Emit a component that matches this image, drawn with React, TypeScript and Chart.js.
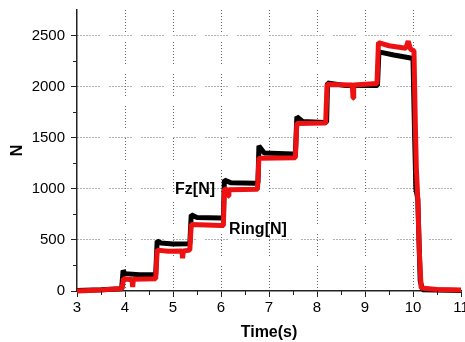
import React, { useEffect, useRef } from "react";
import { Chart, registerables } from "chart.js";

Chart.register(...registerables);

// Fz[N] (black) trace
const fzTime = [3.0, 3.5, 3.93, 3.96, 4.0, 4.3, 4.64, 4.67, 4.75, 5.0, 5.35, 5.38, 5.5, 6.0, 6.05, 6.07, 6.2, 6.7, 6.77, 6.79, 6.9, 7.5, 7.55, 7.58, 7.7, 8.15, 8.2, 8.22, 8.6, 9.2, 9.26, 9.29, 9.6, 9.95, 10.0, 10.03, 10.06, 10.1, 10.15, 10.2, 11.0];
const fzValue = [5, 12, 22, 200, 170, 160, 162, 490, 470, 460, 462, 745, 720, 715, 716, 1085, 1060, 1055, 1058, 1420, 1350, 1340, 1342, 1705, 1660, 1650, 1652, 2035, 2010, 2010, 2012, 2340, 2310, 2280, 2270, 1600, 1000, 900, 100, 12, 5];

// Ring[N] (red) trace
const ringTime = [3.0, 3.5, 3.94, 3.97, 4.1, 4.145, 4.16, 4.175, 4.64, 4.67, 4.9, 5.185, 5.2, 5.215, 5.35, 5.38, 6.0, 6.05, 6.07, 6.135, 6.15, 6.165, 6.76, 6.79, 7.55, 7.58, 8.18, 8.21, 8.735, 8.75, 8.765, 9.25, 9.28, 9.5, 9.85, 9.9, 9.95, 10.02, 10.05, 10.07, 10.1, 10.13, 10.17, 10.5, 11.0];
const ringValue = [0, 10, 25, 120, 112, 115, 40, 115, 120, 400, 390, 392, 320, 392, 400, 650, 640, 642, 1000, 990, 930, 990, 995, 1300, 1305, 1640, 1645, 2020, 2015, 1890, 2015, 2030, 2430, 2400, 2375, 2445, 2365, 2350, 1600, 1200, 900, 400, 30, 15, 10];

const yMajorTicks = [0, 500, 1000, 1500, 2000, 2500];
const xMinorTicks = [3.5, 4.5, 5.5, 6.5, 7.5, 8.5, 9.5, 10.5];
const yMinorTicks = [250, 750, 1250, 1750, 2250];

const fzLabel = "Fz[N]";
const ringLabel = "Ring[N]";

const overlay = {
  id: "overlay",
  afterDraw(chart: any) {
    const { ctx, chartArea } = chart;
    const x = chart.scales.x;
    const y = chart.scales.y;
    ctx.save();
    ctx.strokeStyle = "#222";
    ctx.lineWidth = 1;
    ctx.beginPath();
    xMinorTicks.forEach((v) => {
      const px = Math.round(x.getPixelForValue(v)) + 0.5;
      ctx.moveTo(px, chartArea.bottom);
      ctx.lineTo(px, chartArea.bottom + 4);
    });
    yMinorTicks.forEach((v) => {
      const py = Math.round(y.getPixelForValue(v)) + 0.5;
      ctx.moveTo(chartArea.left, py);
      ctx.lineTo(chartArea.left - 4, py);
    });
    ctx.stroke();
    ctx.fillStyle = "#000";
    ctx.font = "bold 16px 'Liberation Sans', Arial, sans-serif";
    ctx.textAlign = "center";
    ctx.textBaseline = "middle";
    ctx.fillText(fzLabel, x.getPixelForValue(5.46), y.getPixelForValue(990));
    ctx.fillText(ringLabel, x.getPixelForValue(6.77), y.getPixelForValue(600));
    ctx.restore();
  },
};

const gridDash = [1, 2, 1, 2, 1, 2, 1, 2, 1, 2, 1, 2, 1, 2, 1, 10];
const isMajorY = (v: number) => yMajorTicks.indexOf(v) >= 0;

export default function App() {
  const ref = useRef<HTMLCanvasElement | null>(null);
  useEffect(() => {
    if (!ref.current) return;
    const chart = new Chart(ref.current, {
      type: "line",
      data: {
        datasets: [
          {
            label: ringLabel,
            data: ringTime.map((t, i) => ({ x: t, y: ringValue[i] })),
            borderColor: "#ee1111",
            backgroundColor: "#ee1111",
            borderWidth: 5,
            borderJoinStyle: "bevel",
            pointRadius: 0,
            tension: 0,
            clip: false as any,
            order: 0,
          },
          {
            label: fzLabel,
            data: fzTime.map((t, i) => ({ x: t, y: fzValue[i] })),
            borderColor: "#000",
            backgroundColor: "#000",
            borderWidth: 5,
            borderJoinStyle: "bevel",
            pointRadius: 0,
            tension: 0,
            clip: false as any,
            order: 1,
          },
        ],
      },
      options: {
        responsive: false,
        animation: false,
        events: [],
        layout: { padding: { top: 10, right: 4, left: 0, bottom: 0 } },
        plugins: { legend: { display: false }, tooltip: { enabled: false } },
        scales: {
          x: {
            type: "linear",
            min: 3,
            max: 11,
            ticks: {
              stepSize: 1,
              color: "#000",
              font: { family: "'Liberation Sans', Arial, sans-serif", size: 15 },
              padding: 2,
              maxRotation: 0,
            },
            grid: {
              color: (c: any) => (c.tick && (c.tick.value === 3 || c.tick.value === 11) ? "rgba(0,0,0,0)" : "#666"),
              tickColor: "#222",
              tickLength: 6,
              lineWidth: 1,
            },
            border: { display: true, color: "#222", width: 1.5, dash: gridDash },
            title: {
              display: true,
              text: "Time(s)",
              color: "#000",
              font: { family: "'Liberation Sans', Arial, sans-serif", size: 16, weight: "bold" },
              padding: { top: 4, bottom: 0 },
            },
            afterFit: (s: any) => {
              s.height = 51;
              s.paddingLeft = 0;
              s.paddingRight = 0;
            },
          },
          y: {
            type: "linear",
            min: 0,
            max: 2750,
            ticks: {
              stepSize: 250,
              autoSkip: false,
              color: "#000",
              font: { family: "'Liberation Sans', Arial, sans-serif", size: 15 },
              padding: 6,
              callback: (v: any) => (isMajorY(Number(v)) ? String(v) : ""),
            },
            grid: {
              color: (c: any) => (c.tick && isMajorY(c.tick.value) && c.tick.value !== 0 ? "#666" : "rgba(0,0,0,0)"),
              tickColor: (c: any) => (c.tick && isMajorY(c.tick.value) ? "#222" : "rgba(0,0,0,0)"),
              tickLength: 6,
              lineWidth: 1,
            },
            border: { display: true, color: "#222", width: 1.5, dash: gridDash },
            title: {
              display: true,
              text: "N",
              color: "#000",
              font: { family: "'Liberation Sans', Arial, sans-serif", size: 16, weight: "bold" },
              padding: { top: 8, bottom: 0 },
            },
            afterFit: (s: any) => {
              s.width = 77;
              s.paddingTop = 0;
              s.paddingBottom = 0;
            },
          },
        },
      },
      plugins: [overlay],
    });
    return () => chart.destroy();
  }, []);
  return (
    <div style={{ position: "absolute", left: 0, top: 0, width: 465, height: 342, background: "#fff" }}>
      <canvas ref={ref} width={465} height={342} style={{ width: 465, height: 342, display: "block" }} />
    </div>
  );
}
